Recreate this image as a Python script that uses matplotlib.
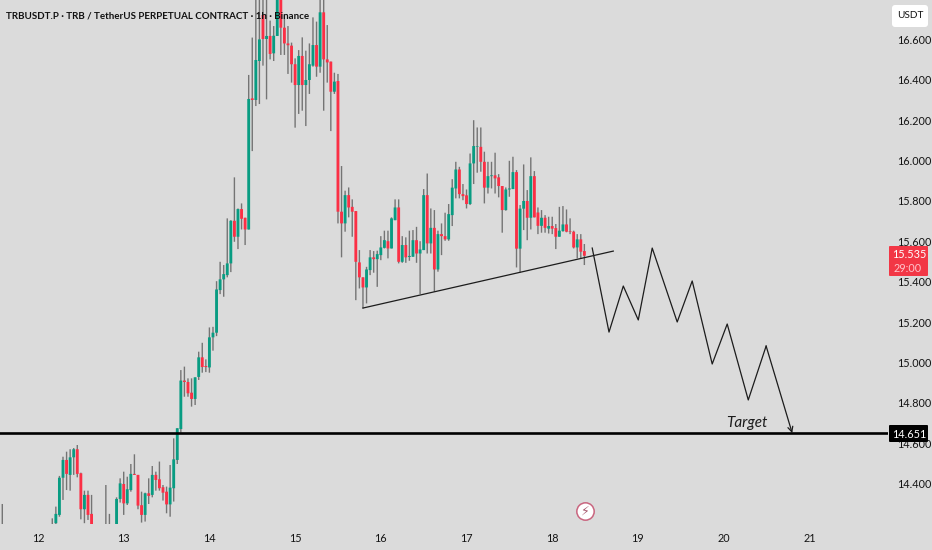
#!/usr/bin/env python3
"""TRBUSDT.P 1h candles with a hand drawn trend line, zigzag and target."""

import matplotlib
matplotlib.use("Agg")
import matplotlib.pyplot as plt
from matplotlib.patches import FancyBboxPatch
from matplotlib.transforms import IdentityTransform

plt.rcParams['font.family'] = ['Lato', 'DejaVu Sans']

# -- Data ---------------------------------------------------------------
# hours since the start of the 12th; candles in the gaps are below the chart
hours = [-10] + list(range(4, 16)) + [19, 20] + list(range(22, 154))

opens = [
    14.18, 14.19, 14.205, 14.246, 14.430, 14.518, 14.444, 14.531, 14.571, 14.452,
    14.274, 14.345, 14.251, 14.19, 14.18, 14.19, 14.325, 14.399, 14.303, 14.369,
    14.449, 14.444, 14.294, 14.246, 14.353, 14.345, 14.444, 14.422, 14.383, 14.361,
    14.298, 14.378, 14.518, 14.671, 14.911, 14.904, 14.851, 14.820, 14.929, 15.026,
    14.983, 14.976, 15.125, 15.148, 15.359, 15.412, 15.433, 15.491, 15.702, 15.623,
    15.760, 15.717, 15.659, 16.308, 16.300, 16.493, 16.721, 16.602, 16.617, 16.531,
    16.617, 16.85, 16.658, 16.580, 16.569, 16.477, 16.374, 16.518, 16.374, 16.399,
    16.470, 16.572, 16.465, 16.734, 16.501, 16.490, 16.341, 16.394, 15.747, 15.689,
    15.829, 15.771, 15.750, 15.496, 15.422, 15.372, 15.458, 15.521, 15.512, 15.532,
    15.568, 15.601, 15.565, 15.705, 15.768, 15.499, 15.582, 15.523, 15.524, 15.606,
    15.540, 15.557, 15.829, 15.590, 15.667, 15.461, 15.636, 15.626, 15.610, 15.730,
    15.862, 15.956, 15.834, 15.828, 15.785, 15.986, 16.069, 16.068, 15.994, 15.866,
    15.923, 15.927, 15.917, 15.874, 15.755, 15.857, 15.859, 15.943, 15.564, 15.762,
    15.800, 15.717, 15.923, 15.743, 15.677, 15.717, 15.663, 15.676, 15.666, 15.623,
    15.651, 15.684, 15.650, 15.648, 15.570, 15.610, 15.552,
]
highs = [
    14.30, 14.229, 14.287, 14.439, 14.534, 14.559, 14.571, 14.577, 14.592, 14.455,
    14.366, 14.366, 14.345, 14.394, 14.251, 14.333, 14.427, 14.460, 14.435, 14.498,
    14.546, 14.444, 14.361, 14.356, 14.427, 14.488, 14.460, 14.510, 14.394, 14.386,
    14.493, 14.625, 14.675, 14.963, 14.980, 14.922, 14.922, 14.927, 15.054, 15.098,
    15.016, 15.174, 15.177, 15.403, 15.499, 15.483, 15.714, 15.705, 15.917, 15.763,
    15.788, 15.717, 16.424, 16.609, 16.80, 16.85, 16.80, 16.80, 16.693, 16.666,
    16.90, 16.90, 16.72, 16.666, 16.584, 16.506, 16.547, 16.610, 16.544, 16.580,
    16.709, 16.688, 16.80, 16.80, 16.671, 16.490, 16.435, 16.429, 15.973, 15.851,
    15.867, 15.808, 15.750, 15.557, 15.422, 15.474, 15.557, 15.552, 15.554, 15.626,
    15.653, 15.653, 15.719, 15.808, 15.808, 15.626, 15.620, 15.653, 15.656, 15.672,
    15.601, 15.859, 15.936, 15.763, 15.755, 15.653, 15.689, 15.742, 15.785, 15.908,
    15.994, 15.969, 15.884, 15.857, 16.035, 16.200, 16.164, 16.164, 16.044, 15.994,
    15.994, 16.039, 15.933, 15.874, 15.867, 15.999, 16.019, 15.953, 15.780, 15.981,
    15.854, 16.016, 15.948, 15.768, 15.755, 15.730, 15.722, 15.722, 15.686, 15.771,
    15.775, 15.758, 15.714, 15.653, 15.636, 15.636, 15.587,
]
lows = [
    14.15, 14.15, 14.15, 14.237, 14.320, 14.369, 14.366, 14.444, 14.432, 14.224,
    14.205, 14.221, 14.15, 14.15, 14.15, 14.15, 14.307, 14.246, 14.295, 14.361,
    14.444, 14.274, 14.208, 14.213, 14.300, 14.333, 14.366, 14.366, 14.317, 14.254,
    14.237, 14.312, 14.498, 14.653, 14.831, 14.831, 14.782, 14.790, 14.914, 14.95,
    14.953, 14.95, 15.059, 15.131, 15.339, 15.326, 15.422, 15.448, 15.598, 15.562,
    15.659, 15.582, 15.659, 16.047, 16.270, 16.280, 16.470, 16.303, 16.501, 16.493,
    16.617, 16.523, 16.523, 16.429, 16.386, 16.163, 16.231, 16.247, 16.171, 16.330,
    16.465, 16.415, 16.435, 16.247, 16.386, 16.146, 16.330, 15.689, 15.521, 15.648,
    15.719, 15.623, 15.309, 15.367, 15.268, 15.293, 15.433, 15.445, 15.375, 15.507,
    15.565, 15.516, 15.565, 15.705, 15.491, 15.494, 15.494, 15.504, 15.524, 15.494,
    15.339, 15.557, 15.540, 15.540, 15.351, 15.450, 15.532, 15.603, 15.603, 15.676,
    15.813, 15.813, 15.804, 15.763, 15.780, 15.884, 15.940, 15.945, 15.788, 15.837,
    15.862, 15.837, 15.818, 15.643, 15.752, 15.821, 15.859, 15.471, 15.445, 15.656,
    15.606, 15.659, 15.719, 15.636, 15.643, 15.643, 15.639, 15.636, 15.562, 15.623,
    15.648, 15.645, 15.636, 15.565, 15.516, 15.516, 15.483,
]
closes = [
    14.19, 14.20, 14.251, 14.430, 14.518, 14.449, 14.531, 14.571, 14.449, 14.274,
    14.345, 14.246, 14.190, 14.18, 14.17, 14.325, 14.402, 14.303, 14.373, 14.449,
    14.444, 14.292, 14.246, 14.353, 14.340, 14.444, 14.419, 14.378, 14.356, 14.298,
    14.381, 14.521, 14.675, 14.911, 14.904, 14.848, 14.820, 14.927, 15.026, 14.978,
    14.978, 15.125, 15.148, 15.362, 15.412, 15.438, 15.491, 15.702, 15.623, 15.760,
    15.712, 15.659, 16.305, 16.300, 16.498, 16.600, 16.602, 16.617, 16.528, 16.618,
    16.85, 16.658, 16.580, 16.571, 16.477, 16.374, 16.518, 16.374, 16.399, 16.477,
    16.572, 16.465, 16.734, 16.501, 16.486, 16.341, 16.391, 15.747, 15.689, 15.829,
    15.768, 15.747, 15.499, 15.422, 15.372, 15.461, 15.521, 15.512, 15.537, 15.570,
    15.606, 15.565, 15.714, 15.768, 15.499, 15.582, 15.521, 15.528, 15.606, 15.540,
    15.560, 15.829, 15.590, 15.667, 15.461, 15.636, 15.626, 15.610, 15.735, 15.866,
    15.956, 15.834, 15.824, 15.785, 15.986, 16.072, 16.072, 15.994, 15.866, 15.923,
    15.927, 15.912, 15.874, 15.755, 15.857, 15.862, 15.943, 15.564, 15.762, 15.800,
    15.717, 15.923, 15.719, 15.677, 15.717, 15.667, 15.676, 15.663, 15.623, 15.653,
    15.684, 15.648, 15.647, 15.570, 15.610, 15.549, 15.529,
]

trend_hours = [91.0, 161.1]
trend_prices = [15.270, 15.552]

zigzag_hours = [155.2, 159.9, 163.9, 168.1, 172.0, 179.0, 183.2, 188.8, 193.0, 198.9, 203.9, 211.2]
zigzag_prices = [15.567, 15.151, 15.379, 15.211, 15.567, 15.201, 15.404, 14.993, 15.191, 14.815, 15.082, 14.651]

target_price = 14.651
last_price = 15.535
countdown = "29:00"

price_ticks = [14.4, 14.6, 14.8, 15.0, 15.2, 15.4, 15.6, 15.8, 16.0, 16.2, 16.4, 16.6]
day_labels = ["12", "13", "14", "15", "16", "17", "18", "19", "20", "21"]

BG = "#dbdbdb"
GREEN = "#089c82"
RED = "#fb2f45"
WICK = "#747474"
INK = "#1c1c1c"
W, H = 932, 550


def px_box(fig, x0, y0, x1, y1, color, pad=2):
    """Rounded box given in picture pixels (y down), drawn over the axes."""
    box = FancyBboxPatch(
        (x0 + pad, H - y1 + pad), x1 - x0 - 2 * pad, y1 - y0 - 2 * pad,
        boxstyle=f"round,pad={pad},rounding_size={pad}",
        facecolor=color, edgecolor="none", transform=IdentityTransform(), zorder=10,
    )
    fig.add_artist(box)


def px_text(fig, x, y, s, color, **kw):
    fig.text(x / W, 1 - y / H, s, color=color, ha="center", va="center", zorder=11, **kw)


def main():
    fig = plt.figure(figsize=(W / 100, H / 100), dpi=100, facecolor=BG)
    ax = fig.add_axes([0, 1 - 523.5 / H, 888 / W, 523.5 / H], facecolor=BG)

    # -- Candles ---------------------------------------------------------
    colors = [GREEN if c >= o else RED for o, c in zip(opens, closes)]
    wicks = ax.vlines(hours, lows, highs, color=WICK, linewidth=1.0, zorder=2)
    wicks.set_snap(False)
    bodies = ax.bar(hours, [c - o for o, c in zip(opens, closes)], bottom=opens,
                    width=0.8, color=colors, linewidth=0, zorder=3)
    for body in bodies:
        body.set_snap(False)  # even widths, the reference is soft too

    # -- Drawings ---------------------------------------------------------
    ax.plot(trend_hours, trend_prices, color=INK, linewidth=0.9, zorder=4)
    ax.plot(zigzag_hours[:-1], zigzag_prices[:-1], color=INK, linewidth=0.9, zorder=4)
    ax.annotate("", xy=(zigzag_hours[-1], zigzag_prices[-1]),
                xytext=(zigzag_hours[-2], zigzag_prices[-2]),
                arrowprops=dict(arrowstyle="->", color=INK, linewidth=0.9,
                                shrinkA=0, shrinkB=0, mutation_scale=9), zorder=4)
    ax.axhline(target_price, color="black", linewidth=1.9, zorder=5)
    ax.text(198.5, 14.70, "Target", fontsize=11, style="italic", color=INK,
            ha="center", va="center", zorder=6)

    # news marker near the bottom
    ax.plot([153.2], [14.265], "o", markersize=12.5, markerfacecolor="white",
            markeredgecolor="#c9657f", markeredgewidth=1.1, zorder=6)
    ax.text(153.2, 14.265, "\u26a1", fontsize=9, color="#a85a70", family="DejaVu Sans",
            ha="center", va="center", zorder=7)

    # -- Axes -------------------------------------------------------------
    ax.set_xlim(-38 / 3.571, 850 / 3.571)
    ax.set_ylim(16.795 - 523.5 / 202, 16.795)
    ax.set_xticks([24 * i for i in range(len(day_labels))], day_labels)
    ax.set_yticks(price_ticks, [f"{p:.3f}" for p in price_ticks])
    ax.yaxis.tick_right()
    ax.tick_params(axis="both", length=0, labelsize=7.8, labelcolor="#141414")
    ax.tick_params(axis="y", pad=6.5)
    ax.tick_params(axis="x", pad=6.5)
    for spine in ax.spines.values():
        spine.set_visible(False)

    # -- Header and price tags -------------------------------------------
    fig.text(6 / W, 1 - 16 / H, "TRBUSDT.P \u00b7 TRB / TetherUS PERPETUAL CONTRACT \u00b7 1h \u00b7 Binance",
             fontsize=7.0, color="#111111", fontweight="bold", ha="left", va="center", zorder=9)

    px_box(fig, 892, 5, 928, 27, "white", pad=3)
    px_text(fig, 910, 16, "USDT", "#141414", fontsize=7.2)

    px_box(fig, 889, 246, 928, 276, "#f23645", pad=1)
    px_text(fig, 909, 255, f"{last_price:.3f}", "white", fontsize=7.8)
    px_text(fig, 908, 268, countdown, "#ffc4cb", fontsize=7.8)

    px_box(fig, 889, 425, 928, 442, "black", pad=1)
    px_text(fig, 909, 434, f"{target_price:.3f}", "white", fontsize=7.8)

    fig.savefig("out.png", dpi=100, facecolor=BG)


if __name__ == "__main__":
    main()
